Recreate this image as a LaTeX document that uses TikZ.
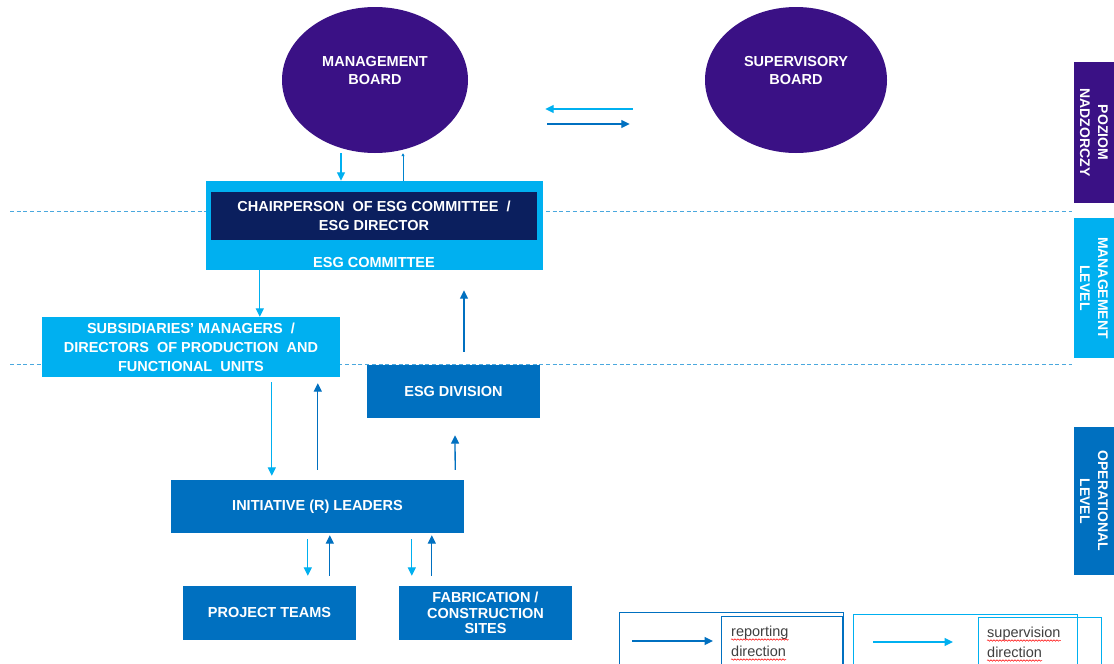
\documentclass[tikz,border=0pt]{standalone}
\usepackage{fontspec}
\setmainfont{Liberation Sans}
\usetikzlibrary{shapes.geometric,arrows.meta,calc,decorations.pathmorphing}
\definecolor{lb}{HTML}{00B0F0}
\definecolor{db}{HTML}{0070C0}
\definecolor{navy}{HTML}{0B1F5E}
\definecolor{purp}{HTML}{3A1185}
\definecolor{txtgray}{HTML}{404040}
\definecolor{dashblue}{HTML}{4AA8DE}
\begin{document}
\begin{tikzpicture}[x=1pt,y=-1pt,
  board/.style={ellipse, fill=purp, draw=none, minimum width=186pt, minimum height=146pt, inner sep=0pt},
  wtext/.style={text=white, align=center, inner sep=0pt, font=\bfseries\fontsize{14.5}{18}\selectfont},
  box/.style={rectangle, draw=none, text=white, align=center, inner sep=0pt, font=\bfseries\fontsize{14.5}{19}\selectfont},
  lbbox/.style={box, fill=lb},
  dbbox/.style={box, fill=db},
  lvl/.style={box, rotate=-90, minimum width=#1, minimum height=40pt, font=\bfseries\fontsize{14}{18}\selectfont},
  sup/.style={draw=lb, line width=1.3pt, -{Triangle[length=8.5pt,width=8pt]}},
  rep/.style={draw=db, line width=1.3pt, -{Triangle[length=8.5pt,width=8pt]}},
  sepline/.style={draw=dashblue, line width=1pt, dash pattern=on 4pt off 2.7pt},
  legbox/.style={rectangle, draw=#1, line width=0.9pt, anchor=north west, inner sep=0pt},
  legtxt/.style={anchor=base west, inner sep=0pt, text=txtgray, font=\fontsize{14.5}{17}\selectfont},
  spell/.style={draw=red, line width=0.5pt, decorate, decoration={snake, amplitude=0.7pt, segment length=3pt}}
]
\useasboundingbox (0,0) rectangle (1114,664);
\fill[white] (0,0) rectangle (1114,664);

% separators
\coordinate (s1a) at (10,211);
\coordinate (s1b) at (1072,211);
\coordinate (s2a) at (10,364);
\coordinate (s2b) at (1072,364);
\draw[sepline] (s1a) -- (s1b);
\draw[sepline] (s2a) -- (s2b);

% boards
\node[board] (mb) at (375,80) {};
\node[wtext] (mbt) at (375,71) {MANAGEMENT\\BOARD};
\node[board, minimum width=182pt] (sb) at (796,80) {};
\node[wtext] (sbt) at (796,71) {SUPERVISORY\\BOARD};

% ESG committee
\node[lbbox, minimum width=337pt, minimum height=89pt] (esg) at (374.5,225.5) {};
\node[box, fill=navy, minimum width=326pt, minimum height=48pt] (chair) at (374,216)
  {CHAIRPERSON\ \ OF ESG COMMITTEE\ \ /\\ESG DIRECTOR};
\node[wtext] (esgt) at (374,262.5) {ESG COMMITTEE};

% other boxes
\node[lbbox, minimum width=298pt, minimum height=60pt] (sub) at (191,347)
  {SUBSIDIARIES’ MANAGERS\ \ /\\DIRECTORS\ \ OF PRODUCTION\ \ AND\\FUNCTIONAL\ \ UNITS};
\node[dbbox, minimum width=173pt, minimum height=53pt] (div) at (453.5,391.5) {ESG DIVISION};
\node[dbbox, minimum width=293pt, minimum height=53pt] (init) at (317.5,506.5) {INITIATIVE (R) LEADERS};
\node[dbbox, minimum width=173pt, minimum height=54pt] (pt) at (269.5,613) {PROJECT TEAMS};
\node[dbbox, minimum width=173pt, minimum height=54pt, font=\bfseries\fontsize{14.5}{15.5}\selectfont] (fab) at (485.5,613)
  {FABRICATION /\\CONSTRUCTION\\SITES};

% level labels
\node[lvl=141pt, fill=purp] (poz) at (1094,132.5) {POZIOM\\NADZORCZY};
\node[lvl=140pt, fill=lb] (mgl) at (1094,288) {MANAGEMENT\\LEVEL};
\node[lvl=148pt, fill=db] (opl) at (1094,501) {OPERATIONAL\\LEVEL};

% connectors
\draw[sup] ($(mb.south)+(-34,0)$) -- ($(esg.north)+(-33.5,0)$);
\draw[draw=db!70!lb, line width=1pt, -{Triangle[length=3pt,width=3pt]}] ($(esg.north)+(28.5,0)$) -- ($(mb.south)+(28,0)$);
\draw[sup] ($(sb.west)+(-72,29)$) -- ($(mb.east)+(77,29)$);
\draw[rep] ($(mb.east)+(79,44)$) -- ($(sb.west)+(-75,44)$);
\draw[sup] ($(esg.south west)+(54,0)$) -- ($(sub.north west)+(218,0)$);
\draw[rep] ($(div.north)+(10.5,-13)$) -- ($(esg.south)+(89.5,20)$);
\draw[sup] ($(sub.south west)+(230,5)$) -- ($(init.north west)+(101,-4)$);
\draw[rep] ($(init.north west)+(147,-10)$) -- ($(sub.south west)+(276,6)$);
\draw[rep] ($(init.north east)+(-9,-10)$) -- ($(div.south)+(1.5,17)$);
\draw[sup] ($(init.south west)+(137,6)$) -- ($(pt.north west)+(125,-10)$);
\draw[rep] ($(pt.north west)+(147,-10)$) -- ($(init.south west)+(159,2)$);
\draw[sup] ($(init.south west)+(241,6)$) -- ($(fab.north west)+(13,-10)$);
\draw[rep] ($(fab.north west)+(33,-10)$) -- ($(init.south west)+(261,2)$);

% legend
\node[legbox=db, minimum width=224pt, minimum height=62pt] (lg1) at (619,612) {};
\node[legbox=db, minimum width=121pt, minimum height=58pt] (lg1in) at (721,616) {};
\node[legbox=lb, minimum width=224pt, minimum height=60pt] (lg2) at (853,614) {};
\node[legbox=lb, minimum width=123pt, minimum height=57pt] (lg2in) at (978,617) {};
\draw[rep] ($(lg1.north west)+(13,29)$) -- ($(lg1in.north west)+(-8,25)$);
\draw[sup] ($(lg2.north west)+(20,28)$) -- ($(lg2in.north west)+(-25,25)$);
\node[legtxt] (r1) at (731,636) {reporting};
\node[legtxt] (r2) at (731,656) {direction};
\node[legtxt] (v1) at (987,637) {supervision};
\node[legtxt] (v2) at (987,657) {direction};
\draw[spell] ($(r1.base west)+(0,3.5)$) -- ($(r1.base east)+(0,3.5)$);
\draw[spell] ($(r2.base west)+(0,3.5)$) -- ($(r2.base east)+(0,3.5)$);
\draw[spell] ($(v1.base west)+(0,3.5)$) -- ($(v1.base east)+(0,3.5)$);
\draw[spell] ($(v2.base west)+(0,3.5)$) -- ($(v2.base east)+(0,3.5)$);
\end{tikzpicture}
\end{document}
